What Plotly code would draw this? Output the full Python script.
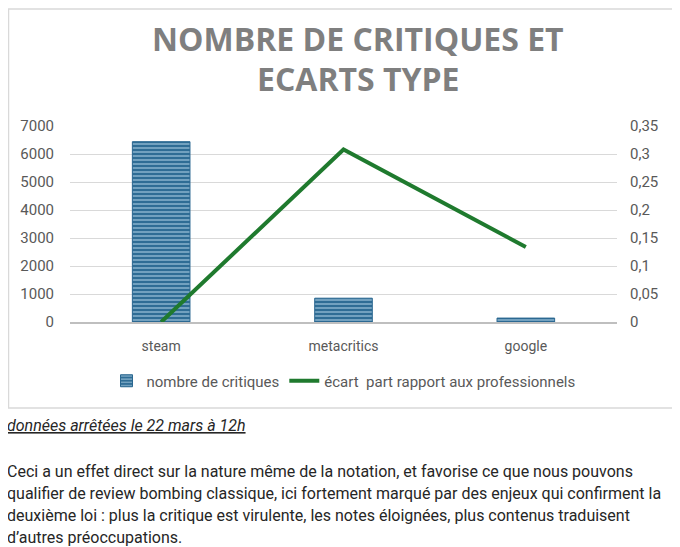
import plotly.graph_objects as go

# data
categories = ["steam", "metacritics", "google"]
nb_critiques = [6440, 850, 140]
ecart_pro = [0.0, 0.308, 0.134]

left_ticks = [0, 1000, 2000, 3000, 4000, 5000, 6000, 7000]
right_ticks = [0, 0.05, 0.1, 0.15, 0.2, 0.25, 0.3, 0.35]

title_lines = ["NOMBRE DE CRITIQUES ET", "ECARTS TYPE"]
note = "données arrêtées le 22 mars à 12h"
paragraph = [
    "Ceci a un effet direct sur la nature même de la notation, et favorise ce que nous pouvons",
    "qualifier de review bombing classique, ici fortement marqué par des enjeux qui confirment la",
    "deuxième loi : plus la critique est virulente, les notes éloignées, plus contenus traduisent",
    "d’autres préoccupations.",
]

# page geometry (pixels of the 680x547 page); the browser adds an 8px body margin
OFF = 8
W, H = 680 - OFF, 547 - OFF
L, R, T, B = 70 - OFF, 617 - OFF, 126 - OFF, 322 - OFF

def xp(px):
    return (px - OFF - L) / (R - L)

def yp(py):
    return (B - (py - OFF)) / (B - T)

grey = "#595959"

fig = go.Figure()
fig.add_trace(go.Bar(
    x=categories, y=nb_critiques, name="nombre de critiques",
    marker=dict(color="#9fc6de", line=dict(color="#2a6790", width=1),
                pattern=dict(shape="-", bgcolor="#2f6d95", fgcolor="#b5d5ea",
                             size=4, solidity=0.5)),
    yaxis="y",
))
fig.add_trace(go.Scatter(
    x=categories, y=ecart_pro, name="écart  part rapport aux professionnels",
    mode="lines", line=dict(color="#1f7a2e", width=4), yaxis="y2",
))

fig.update_layout(
    width=W, height=H,
    margin=dict(l=L, r=W - R, t=T, b=H - B),
    paper_bgcolor="white", plot_bgcolor="white",
    separators=", ",
    bargap=0.684,
    font=dict(family="Roboto, Arial, sans-serif", color=grey, size=13),
    showlegend=True,
    legend=dict(orientation="h", x=0.5, xanchor="center", y=yp(381), yanchor="middle",
                font=dict(size=15, color=grey), itemwidth=30,
                bgcolor="rgba(0,0,0,0)"),
    xaxis=dict(showgrid=False, ticks="", showline=True, linecolor="#bfbfbf", linewidth=2,
               tickfont=dict(size=14, color=grey), ticklabelstandoff=10),
    yaxis=dict(range=[0, 7000], tickvals=left_ticks, tickformat="d",
               showgrid=True, gridcolor="#d9d9d9", gridwidth=1, zeroline=False,
               tickfont=dict(size=15, color=grey), ticklabelstandoff=15),
    yaxis2=dict(range=[0, 0.35], tickvals=right_ticks, overlaying="y", side="right",
                showgrid=False, zeroline=False,
                tickfont=dict(size=15, color=grey), ticklabelstandoff=12),
)

# chart frame
fig.add_shape(type="rect", xref="paper", yref="paper",
              x0=xp(8.5), x1=xp(674), y0=yp(408), y1=yp(9),
              line=dict(color="#d9d9d9", width=1.5), layer="below")

# title
for i, line in enumerate(title_lines):
    fig.add_annotation(text=f"<b>{line}</b>", xref="paper", yref="paper",
                       x=xp(358), y=yp(39 + 39 * i), xanchor="center", yanchor="middle",
                       showarrow=False, font=dict(size=32, color="#7f7f7f",
                                                  family="Open Sans, Roboto, Arial, sans-serif"))

# text under the chart
body_font = dict(size=16, color="#262626", family="Roboto, sans-serif")
fig.add_annotation(text=f"<u><i>{note}</i></u>", xref="paper", yref="paper",
                   x=xp(5), y=yp(425), xanchor="left", yanchor="middle", showarrow=False,
                   font=body_font)
for i, line in enumerate(paragraph):
    fig.add_annotation(text=line, xref="paper", yref="paper",
                       x=xp(5), y=yp(471 + 22 * i), xanchor="left", yanchor="middle",
                       showarrow=False, font=body_font)

fig.write_html("out.html")
